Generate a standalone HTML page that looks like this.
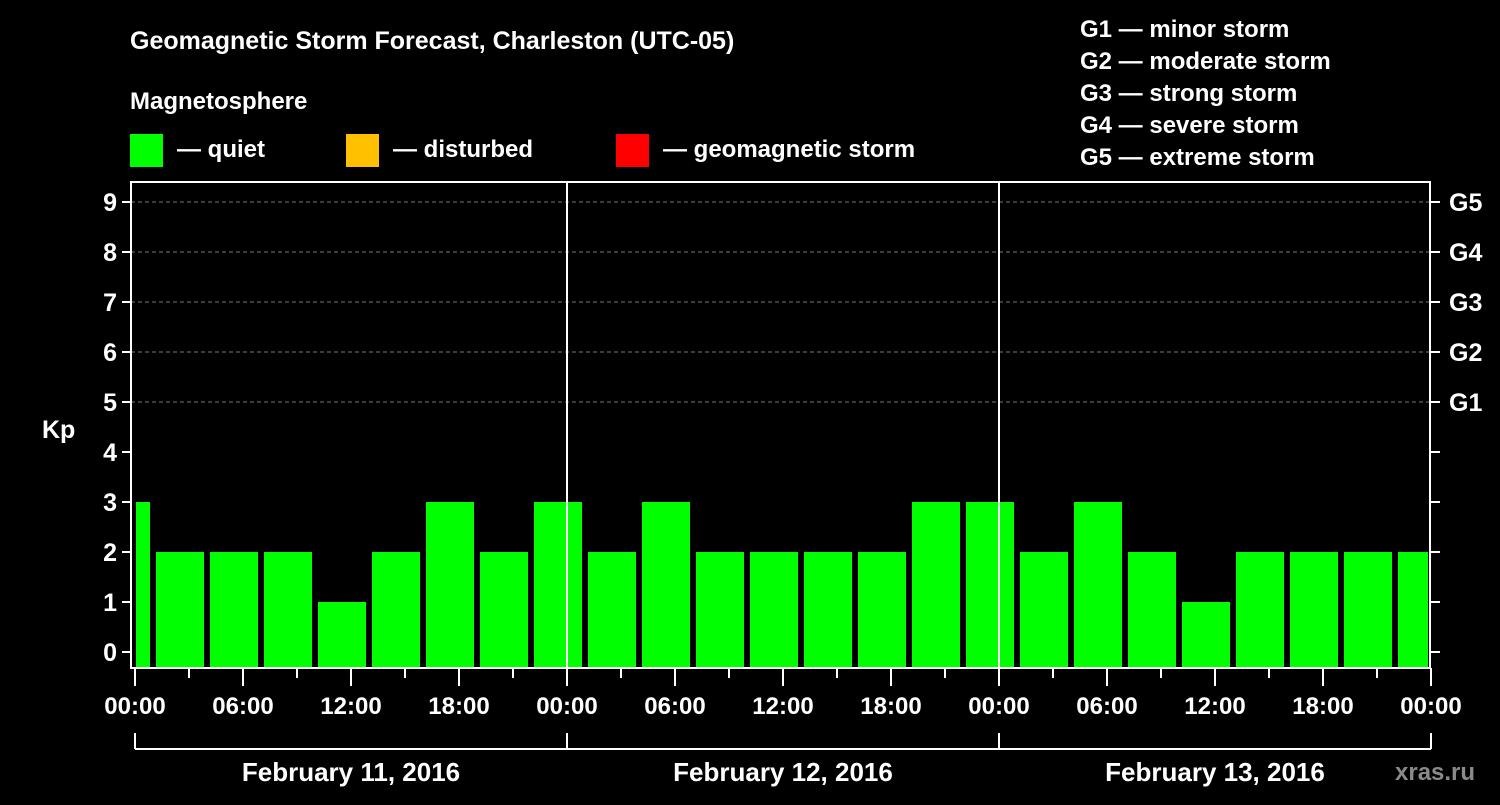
<!DOCTYPE html>
<html><head><meta charset="utf-8"><style>
body{margin:0;background:#000;}
svg text{font-family:"Liberation Sans",Arial,sans-serif;font-weight:bold;fill:#fff;}
</style></head><body>
<svg id="chart" width="1500" height="800" xmlns="http://www.w3.org/2000/svg">
<rect width="1500" height="800" fill="#000"/>
<text x="130" y="49" font-size="25">Geomagnetic Storm Forecast, Charleston (UTC-05)</text>
<text x="130" y="109" font-size="24">Magnetosphere</text>
<g><rect x="130" y="134" width="33" height="33" fill="#00ff00"/><text x="177" y="157" font-size="24">— quiet</text></g>
<g><rect x="346" y="134" width="33" height="33" fill="#ffc000"/><text x="393" y="157" font-size="24">— disturbed</text></g>
<g><rect x="616" y="134" width="33" height="33" fill="#ff0000"/><text x="663" y="157" font-size="24">— geomagnetic storm</text></g>
<g font-size="24">
<text x="1080" y="37">G1 — minor storm</text>
<text x="1080" y="69">G2 — moderate storm</text>
<text x="1080" y="101">G3 — strong storm</text>
<text x="1080" y="133">G4 — severe storm</text>
<text x="1080" y="165">G5 — extreme storm</text>
</g>
<text x="42" y="438" font-size="25">Kp</text>
<text x="1395" y="780" font-size="24" fill="#888" style="fill:#8a8a8a">xras.ru</text>
<g id="grid"></g><g id="bars"></g><g id="axes"></g>
</svg>
<script>
const kpValues=[3,2,2,2,1,2,3,2,3,2,3,2,2,2,2,3,3,2,3,2,1,2,2,2,2];
const dayLabels=["February 11, 2016","February 12, 2016","February 13, 2016"];
const timeLabels=["00:00","06:00","12:00","18:00"];
const gLabels=["G1","G2","G3","G4","G5"];
const NS="http://www.w3.org/2000/svg";
const x0=135,pxPerHour=18,plotL=131,plotR=1430,plotT=182,plotB=668;
const X=h=>x0+h*pxPerHour;
const Y=k=>652-k*50;
function mk(t,a,p){const e=document.createElementNS(NS,t);for(const k in a)e.setAttribute(k,a[k]);p.appendChild(e);return e;}
const grid=document.getElementById('grid'),bars=document.getElementById('bars'),axes=document.getElementById('axes');
for(let k=5;k<=9;k++){const l=mk('line',{x1:plotL,x2:plotR,y1:Y(k),y2:Y(k),stroke:'#777','stroke-dasharray':'4,3','stroke-width':1},grid);

}
// bars: first partial 00:00-01:00, then 3h intervals starting 01:00
kpValues.forEach((v,i)=>{let s,e;if(i===0){s=X(0)+1;e=X(1)-3;}else{s=X(1+(i-1)*3)+3;e=Math.min(X(1+i*3)-3,plotR-2);}
const r=mk('rect',{x:s,y:Y(v),width:e-s,height:plotB-1-Y(v),fill:'#00ff00'},bars);

});
// axes frame
const fr=mk('rect',{x:plotL,y:plotT,width:plotR-plotL,height:plotB-plotT,fill:'none',stroke:'#fff','stroke-width':2},axes);


for(let d=1;d<3;d++){const l=mk('line',{x1:X(24*d),x2:X(24*d),y1:plotT,y2:plotB,stroke:'#fff','stroke-width':2},axes);

}
for(let k=0;k<=9;k++){
mk('line',{x1:122,x2:plotL,y1:Y(k),y2:Y(k),stroke:'#fff','stroke-width':2},axes);
mk('line',{x1:plotR,x2:1440,y1:Y(k),y2:Y(k),stroke:'#fff','stroke-width':2},axes);
const t=mk('text',{x:117,y:Y(k)+9,'font-size':25,'text-anchor':'end'},axes);t.textContent=k;

}
gLabels.forEach((g,i)=>{const t=mk('text',{x:1449,y:Y(5+i)+9,'font-size':25},axes);t.textContent=g;

});
for(let h=0;h<=72;h+=3){const major=h%6===0;mk('line',{x1:X(h),x2:X(h),y1:plotB,y2:plotB+(major?18:10),stroke:'#fff','stroke-width':2},axes);
if(major){const t=mk('text',{x:X(h),y:714,'font-size':24,'text-anchor':'middle'},axes);t.textContent=timeLabels[(h%24)/6];

}}
mk('line',{x1:X(0),x2:X(72),y1:749,y2:749,stroke:'#fff','stroke-width':2},axes);
for(let d=0;d<=3;d++)mk('line',{x1:X(24*d),x2:X(24*d),y1:733,y2:749,stroke:'#fff','stroke-width':2},axes);
dayLabels.forEach((s,d)=>{const t=mk('text',{x:X(24*d+12),y:781,'font-size':26,'text-anchor':'middle'},axes);t.textContent=s;

});
</script>
</body></html>
